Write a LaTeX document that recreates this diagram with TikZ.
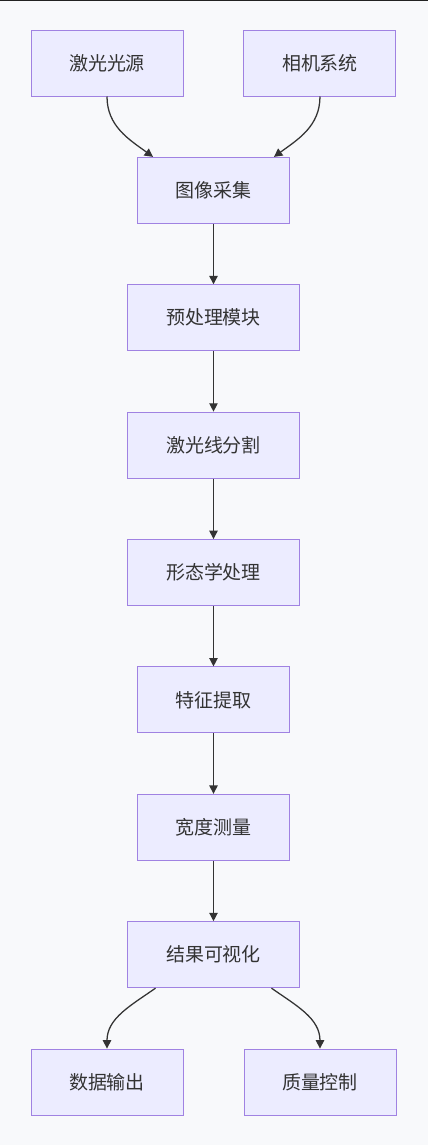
\documentclass[tikz,border=0pt]{standalone}
\usepackage{fontspec}
\setmainfont{Noto Sans CJK SC}
\usetikzlibrary{positioning,arrows.meta,calc}
\definecolor{nodefill}{RGB}{236,236,255}
\definecolor{nodeline}{RGB}{160,130,226}
\definecolor{ink}{RGB}{51,51,51}
\definecolor{bg}{RGB}{248,249,251}
\definecolor{topbar}{RGB}{34,34,34}
\tikzset{
  box/.style={draw=nodeline, line width=0.7pt, fill=nodefill, align=center,
              minimum width=3.8cm, minimum height=1.65cm, inner sep=4pt, text=ink,
              font=\fontsize{13.5}{16}\selectfont},
  wbox/.style={box, minimum width=4.3cm},
  arr/.style={-{Triangle[length=2.1mm,width=2.1mm]}, line width=0.9pt, draw=ink},
}

\begin{document}
\begin{tikzpicture}[node distance=1.51cm and 1.5cm]
  \fill[bg] (0,0) rectangle (10.7,-28.625);
  \useasboundingbox (0,0) rectangle (10.7,-28.625);
  \draw[topbar, line width=0.05cm] (0,-0.01) -- (10.7,-0.01);

  % sources
  \node[box] (laser) at (2.675,-1.575) {激光光源};
  \node[box, right=of laser] (camera) {相机系统};

  % main chain
  \node[box, below=of $(laser.south)!0.5!(camera.south)$, anchor=north] (acq) {图像采集};
  \node[wbox, below=of acq] (prep) {预处理模块};
  \node[wbox, below=of prep] (seg) {激光线分割};
  \node[wbox, below=of seg] (morph) {形态学处理};
  \node[box, below=of morph] (feat) {特征提取};
  \node[box, below=of feat] (meas) {宽度测量};
  \node[wbox, below=of meas] (vis) {结果可视化};

  % outputs
  \node[box, below=of vis, xshift=-2.6625cm] (out) {数据输出};
  \node[box, below=of vis, xshift=2.6625cm] (qc) {质量控制};

  \draw[arr] (laser.south) to[out=-90, in=144] (acq.151);
  \draw[arr] (camera.south) to[out=-90, in=36] (acq.29);
  \draw[arr] (acq) -- (prep);
  \draw[arr] (prep) -- (seg);
  \draw[arr] (seg) -- (morph);
  \draw[arr] (morph) -- (feat);
  \draw[arr] (feat) -- (meas);
  \draw[arr] (meas) -- (vis);
  \draw[arr] (vis.-150) to[out=-145, in=90] (out.north);
  \draw[arr] (vis.-30) to[out=-35, in=90] (qc.north);
\end{tikzpicture}
\end{document}
